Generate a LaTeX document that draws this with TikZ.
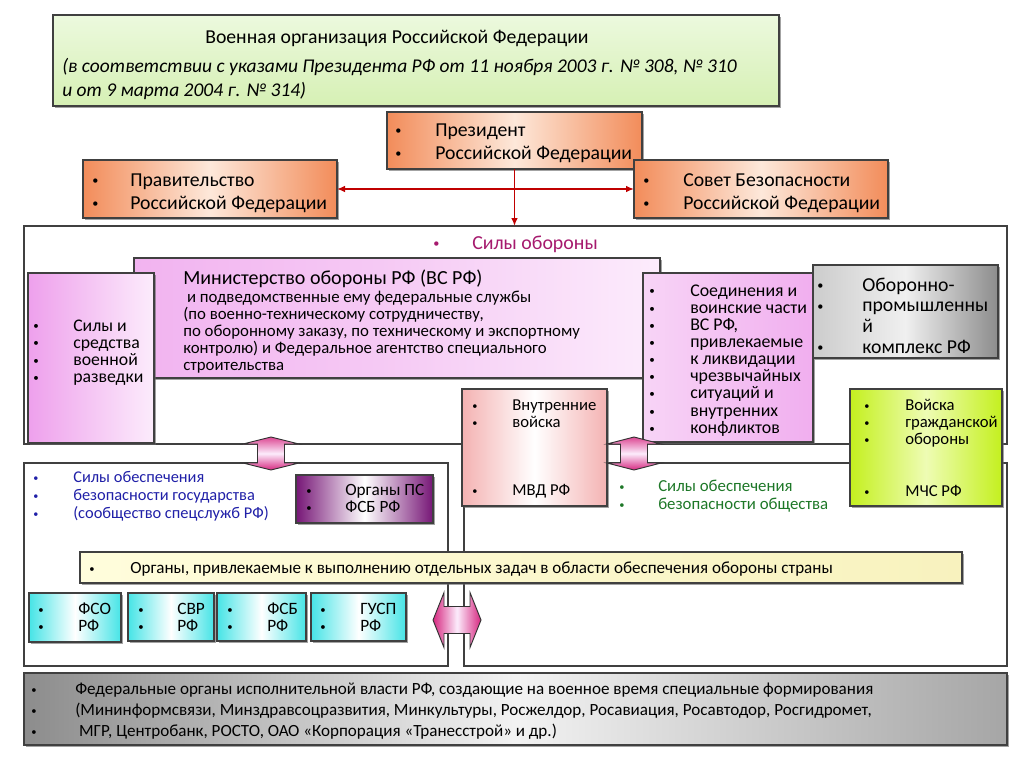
\documentclass[tikz,border=0pt]{standalone}
\usepackage{fontspec}
\setmainfont{Carlito}
\usetikzlibrary{arrows.meta,shadows}
\newdimen\pxu \pxu=0.75pt
\newcommand\dotb{\raisebox{0.12ex}{\scalebox{0.62}{\textbullet}}}
\newcommand\bi[2]{\makebox[#1\pxu][l]{\dotb}#2}
\newcommand\lst[1]{\begin{tabular}[t]{@{}l@{}}#1\end{tabular}}
\definecolor{hdrA}{RGB}{236,249,222}
\definecolor{hdrB}{RGB}{214,240,180}
\definecolor{orgA}{RGB}{242,140,90}
\definecolor{orgB}{RGB}{253,232,218}
\definecolor{pinkA}{RGB}{238,160,236}
\definecolor{pinkB}{RGB}{252,236,252}
\definecolor{roseA}{RGB}{244,178,178}
\definecolor{limeA}{RGB}{196,240,30}
\definecolor{limeB}{RGB}{238,252,180}
\definecolor{purpA}{RGB}{118,22,118}
\definecolor{cyanA}{RGB}{70,228,230}
\definecolor{yelA}{RGB}{255,253,220}
\definecolor{yelB}{RGB}{248,242,190}
\definecolor{arrM}{RGB}{214,40,128}
\definecolor{redL}{RGB}{192,0,0}
\definecolor{defT}{RGB}{166,26,110}
\definecolor{blueT}{RGB}{32,32,168}
\definecolor{greenT}{RGB}{30,120,40}

\begin{document}
\begin{tikzpicture}[x=0.75pt,y=-0.75pt,
  box/.style={draw=black!75,line width=0.8pt,inner sep=0pt,outer sep=0pt,anchor=north west},
  sz/.style 2 args={minimum width=#1*0.75pt,minimum height=#2*0.75pt},
  shd/.style={drop shadow={shadow xshift=1.2pt,shadow yshift=-1.2pt,fill=black!60,opacity=0.6}},
  txt/.style={anchor=base west,inner sep=0pt},
  orange/.style={left color=orgA,right color=orgA,middle color=orgB},
  redarrow/.style={draw=redL,line width=1.1pt,{Latex[length=6pt,width=5pt]}-{Latex[length=6pt,width=5pt]}},
  pinkarr/.style={draw=black!80,line width=0.7pt,top color=arrM!85,bottom color=arrM,middle color=pinkB},
  pinkarrh/.style={draw=black!80,line width=0.7pt,left color=arrM,right color=arrM,middle color=pinkB}]
\useasboundingbox (0,0) rectangle (1024,768);

% big frames
\node[box,sz={983}{218},fill=white] (defence) at (24,226) {};
\node[box,sz={424}{203},fill=white] (state) at (24,463) {};
\node[box,sz={543}{203},fill=white] (society) at (464,463) {};

% header
\node[box,sz={726}{91},shd,top color=hdrA,bottom color=hdrB] (header) at (53,15) {};
\node[txt,font=\fontsize{14.8}{18}\selectfont] (ttl) at (205,43) {Военная организация Российской Федерации};
\node[txt,font=\fontsize{14.6}{18}\selectfont\itshape] (ttlsub) at (62,72)
  {\lst{(в соответствии с указами Президента РФ от 11 ноября 2003 г. № 308, № 310\\и от 9 марта 2004 г. № 314)}};

% top level
\node[box,sz={255}{57},shd,orange] (pres) at (387,112) {};
\node[txt,font=\fontsize{14.8}{17.25}\selectfont] at (395,136) {\lst{\bi{40}{Президент}\\\bi{40}{Российской Федерации}}};
\node[box,sz={254}{58},shd,orange] (gov) at (83,160) {};
\node[txt,font=\fontsize{14.8}{17.25}\selectfont] at (92,186) {\lst{\bi{38}{Правительство}\\\bi{38}{Российской Федерации}}};
\node[box,sz={254}{58},shd,orange] (council) at (634,160) {};
\node[txt,font=\fontsize{14.8}{17.25}\selectfont] at (643,186) {\lst{\bi{40}{Совет Безопасности}\\\bi{40}{Российской Федерации}}};

\draw[redarrow] (gov.east) -- (council.west);
\draw[draw=redL,line width=1.1pt,-{Latex[length=6pt,width=5pt]}] (pres.south) -- (pres.south |- defence.north);

% defence forces
\node[txt,text=defT,font=\fontsize{14.9}{17}\selectfont] (deftxt) at (433,249) {\bi{39}{Силы обороны}};
\node[box,sz={526}{120},shd,left color=pinkA!80!white,right color=pinkB,middle color=pinkA!55!white] (ministry) at (134,258) {};
\node[txt,font=\fontsize{15}{17}\selectfont] at (142,284) {\bi{41}{Министерство обороны РФ (ВС РФ)}};
\node[txt,font=\fontsize{12.6}{12.75}\selectfont] at (183,302) {\lst{\ и подведомственные ему федеральные службы\\
  (по военно-техническому сотрудничеству,\\
  по оборонному заказу, по техническому и экспортному\\
  контролю) и Федеральное агентство специального\\
  строительства}};
\node[box,sz={126}{170},shd,left color=pinkA,right color=pinkB] (intel) at (28,273) {};
\node[txt,font=\fontsize{13.3}{12.75}\selectfont] at (33,331) {\lst{\bi{40}{Силы и}\\\bi{40}{средства}\\\bi{40}{военной}\\\bi{40}{разведки}}};
\node[box,sz={170}{169},shd,left color=pinkA!45!white,right color=pinkA!85!white] (units) at (643,273) {};
\node[txt,font=\fontsize{13.4}{12.85}\selectfont] at (649,296) {\lst{\bi{41}{Соединения и}\\\bi{41}{воинские части}\\\bi{41}{ВС РФ,}\\
  \bi{41}{привлекаемые}\\\bi{41}{к ликвидации}\\\bi{41}{чрезвычайных}\\\bi{41}{ситуаций и}\\\bi{41}{внутренних}\\\bi{41}{конфликтов}}};
\node[box,sz={185}{93},shd,left color=black!20,right color=black!45,middle color=black!6] (opk) at (813,265) {};
\node[txt,font=\fontsize{14.8}{15.5}\selectfont] at (817,291) {\lst{\bi{45}{Оборонно-}\\\bi{45}{промышленны}\\\makebox[45\pxu]{}й\\\bi{45}{комплекс РФ}}};

% internal troops and civil defence
\node[box,sz={145}{117},shd,left color=roseA,right color=roseA,middle color=white] (vv) at (462,389) {};
\node[txt,font=\fontsize{12.5}{12.75}\selectfont] at (472,410) {\lst{\bi{40}{Внутренние}\\\bi{40}{войска}\\[51\pxu]\bi{40}{МВД РФ}}};
\node[box,sz={152}{117},shd,left color=limeA,right color=limeA,middle color=limeB] (mchs) at (850,389) {};
\node[txt,font=\fontsize{12.5}{12.75}\selectfont] at (864,410) {\lst{\bi{41}{Войска}\\\bi{41}{гражданской}\\\bi{41}{обороны}\\[35\pxu]\bi{41}{МЧС РФ}}};

% state security
\node[txt,text=blueT,font=\fontsize{12.3}{13.5}\selectfont] (statetxt) at (33,482) {\lst{\bi{40}{Силы обеспечения}\\\bi{40}{безопасности государства}\\\bi{40}{(сообщество спецслужб РФ)}}};
\node[box,sz={137}{48},shd,left color=purpA,right color=purpA,middle color=white] (ps) at (296,475) {};
\node[txt,font=\fontsize{12.9}{12.75}\selectfont] at (306,495) {\lst{\bi{39}{Органы ПС}\\\bi{39}{ФСБ РФ}}};
\node[txt,text=greenT,font=\fontsize{12.6}{13.5}\selectfont] (soctxt) at (619,491) {\lst{\bi{39}{Силы обеспечения}\\\bi{39}{безопасности общества}}};

\node[box,sz={882}{31},shd,left color=yelA,right color=yelB] (aux) at (80,552) {};
\node[txt,font=\fontsize{12.8}{12.75}\selectfont] at (89,573) {\bi{41}{Органы, привлекаемые к выполнению отдельных задач в области обеспечения обороны страны}};

% special services
\node[box,sz={92}{49},shd,left color=cyanA,right color=cyanA,middle color=white] (fso) at (29,593) {};
\node[txt,font=\fontsize{13}{12.75}\selectfont] at (38,614) {\lst{\bi{40}{ФСО}\\\bi{40}{РФ}}};
\node[box,sz={86}{48},shd,left color=cyanA,right color=cyanA,middle color=white] (svr) at (128,593) {};
\node[txt,font=\fontsize{13}{12.75}\selectfont] at (138,614) {\lst{\bi{39}{СВР}\\\bi{39}{РФ}}};
\node[box,sz={89}{48},shd,left color=cyanA,right color=cyanA,middle color=white] (fsb) at (217,593) {};
\node[txt,font=\fontsize{13}{12.75}\selectfont] at (227,614) {\lst{\bi{40}{ФСБ}\\\bi{40}{РФ}}};
\node[box,sz={95}{48},shd,left color=cyanA,right color=cyanA,middle color=white] (gusp) at (311,593) {};
\node[txt,font=\fontsize{13}{12.75}\selectfont] at (320,614) {\lst{\bi{40}{ГУСП}\\\bi{40}{РФ}}};

% federal bodies
\node[box,sz={983}{72},shd,left color=black!45,right color=black!35,middle color=black!5] (fed) at (24,673) {};
\node[txt,font=\fontsize{12.8}{16.1}\selectfont] at (31,694) {\lst{\bi{44}{Федеральные органы исполнительной власти РФ, создающие на военное время специальные формирования}\\
  \bi{44}{(Мининформсвязи, Минздравсоцразвития, Минкультуры, Росжелдор, Росавиация, Росавтодор, Росгидромет,}\\
  \bi{44}{\ МГР, Центробанк, РОСТО, ОАО «Корпорация «Транесстрой» и др.)}}};

% block arrows
\shade[pinkarr] (271,437) -- (299,444) -- (284.5,444) -- (284.5,463) -- (299,463) -- (271,470)
  -- (243,463) -- (257.5,463) -- (257.5,444) -- (243,444) -- cycle;
\shade[pinkarr] (634,437) -- (661,444) -- (647.5,444) -- (647.5,463) -- (661,463) -- (634,470)
  -- (607,463) -- (620.5,463) -- (620.5,444) -- (607,444) -- cycle;
\shade[pinkarrh] (433,620) -- (444,592.5) -- (444,606.5) -- (470,606.5) -- (470,592.5) -- (481,620)
  -- (470,647.5) -- (470,633.5) -- (444,633.5) -- (444,647.5) -- cycle;
\end{tikzpicture}
\end{document}
